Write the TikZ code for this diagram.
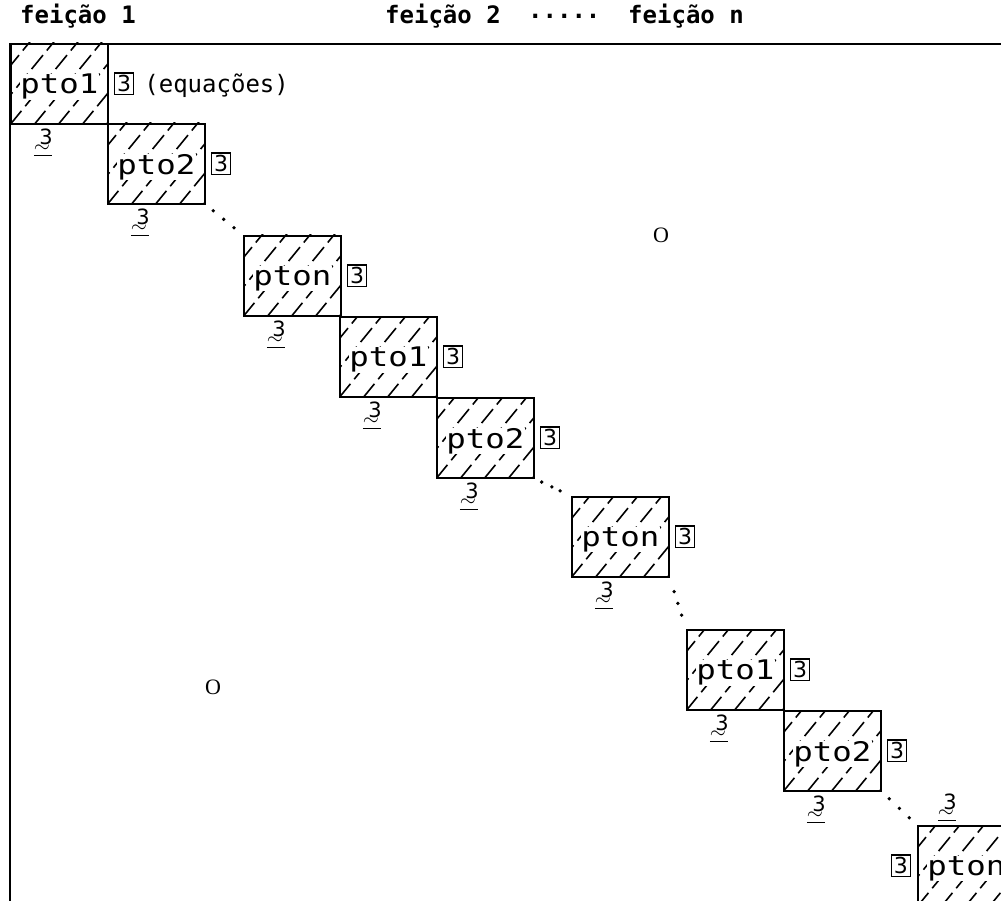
\documentclass[tikz,border=0pt]{standalone}
\usepackage{fontspec}
\usepackage{amsmath}
\usepackage{graphicx}
\setmonofont{DejaVu Sans Mono}
\setsansfont{DejaVu Sans}
\newfontfamily\serifO{Liberation Serif}
\usetikzlibrary{calc}
\newcommand\mybox[3]{%
  \node[ptbox] (#1) at (#2) {};
  \begin{scope}
    \clip (#1.south west) rectangle (#1.north east);
    \foreach \k in {-96,-72,...,120} \draw[hatch] ($(#1.south west)+(\k,0)$) -- ++(90,-110);
  \end{scope}
  \node[pttext] (#1t) at ($(#1.center)+(0,3)$) {\scalebox{1.2}[1]{#3}};
}
\newcommand\ulabtext{\begin{tabular}{@{}c@{}}3\\[-13pt]\hspace*{-6pt}\underline{$\sim$\hspace*{2pt}}\end{tabular}}
\newcommand\myside[1]{%
  \node[tbox, anchor=west] (#1n) at ($(#1.east)+(5,0)$) {3};
  \node[ulab, anchor=north] (#1l) at ($(#1.south west)+(36,4)$) {\ulabtext};
}
\newcommand\mydots[5]{%
  \path (#1) -- (#2) coordinate[pos=#3] (#1-#2-a) coordinate[pos=#4] (#1-#2-b) coordinate[pos=#5] (#1-#2-c);
  \fill (#1-#2-a) circle (1.9pt) (#1-#2-b) circle (1.9pt) (#1-#2-c) circle (1.9pt);
}
\begin{document}
\begin{tikzpicture}[x=1pt,y=-1pt,
  ptbox/.style={draw, line width=1.8pt, minimum width=97pt, minimum height=80pt, anchor=north west, inner sep=0pt},
  hatch/.style={line width=1.6pt, dash pattern=on 18pt off 6pt},
  pttext/.style={fill=white, inner sep=0.3pt, font=\ttfamily\fontsize{27}{27}\selectfont},
  tbox/.style={draw, line width=1.4pt, inner sep=2.5pt, font=\sffamily\fontsize{22}{22}\selectfont},
  ulab/.style={inner sep=0pt, font=\sffamily\fontsize{21}{21}\selectfont},
  head/.style={anchor=west, inner sep=0pt, font=\ttfamily\bfseries\fontsize{24}{24}\selectfont},
  eqtext/.style={anchor=west, inner sep=0pt, font=\ttfamily\fontsize{24}{24}\selectfont},
  frame/.style={line width=2pt},
  zero/.style={inner sep=0pt, font=\serifO\fontsize{22}{22}\selectfont}
]
\useasboundingbox (0,0) rectangle (1001,901);
\clip (0,0) rectangle (1001,901);
\fill[white] (0,0) rectangle (1001,901);

% header
\node[head] (h1) at (20,16) {feição 1};
\node[head] (h2) at (385,16) {feição 2};
\node[head] (h3) at (528,16) {.....};
\node[head] (h4) at (628,16) {feição n};

% frame
\coordinate (fbl) at (10,901);
\coordinate (ftl) at (10,44);
\coordinate (ftr) at (1001,44);
\draw[frame] (fbl) -- (ftl) -- (ftr);

% boxes
\mybox{b1}{10,43}{pto1}
\mybox{b2}{107,123}{pto2}
\mybox{b3}{243,235}{pton}
\mybox{b4}{339,316}{pto1}
\mybox{b5}{436,397}{pto2}
\mybox{b6}{571,496}{pton}
\mybox{b7}{686,629}{pto1}
\mybox{b8}{783,710}{pto2}
\mybox{b9}{917,825}{pton}

\myside{b1}
\myside{b2}
\myside{b3}
\myside{b4}
\myside{b5}
\myside{b6}
\myside{b7}
\myside{b8}
\node[tbox, anchor=east] (b9n) at ($(b9.west)+(-6,0)$) {3};
\node[ulab, anchor=south] (b9l) at ($(b9.north west)+(33,-1)$) {\ulabtext};

\node[eqtext] (eq) at ($(b1n.east)+(10,2)$) {(equações)};

% dotted continuations
\coordinate (p2) at (b2.south east);
\coordinate (q3) at (b3.north west);
\coordinate (p5) at (b5.south east);
\coordinate (q6) at (b6.north west);
\coordinate (p6) at (b6.south east);
\coordinate (q7) at (b7.north west);
\coordinate (p8) at (b8.south east);
\coordinate (q9) at (b9.north west);
\mydots{p2}{q3}{0.2}{0.48}{0.76}
\mydots{p5}{q6}{0.19}{0.47}{0.70}
\mydots{p6}{q7}{0.27}{0.5}{0.73}
\mydots{p8}{q9}{0.21}{0.5}{0.78}

% zeros
\node[zero] (z1) at (661,235) {O};
\node[zero] (z2) at (213,687) {O};
\end{tikzpicture}
\end{document}
